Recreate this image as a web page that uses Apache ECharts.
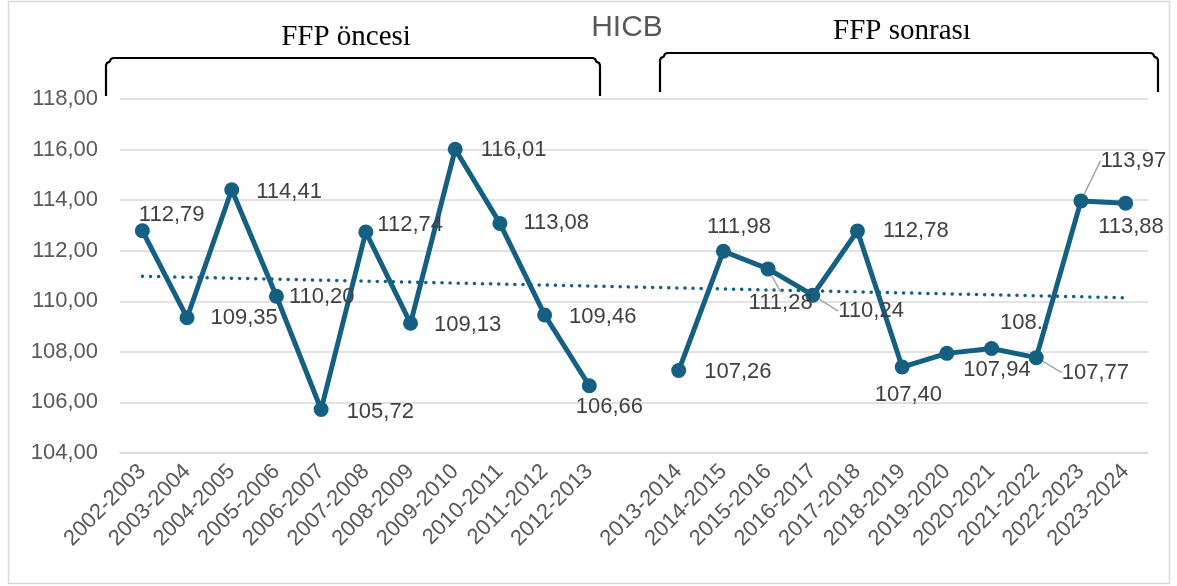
<!DOCTYPE html>
<html>
<head>
<meta charset="utf-8">
<script src="https://cdn.jsdelivr.net/npm/echarts@6/dist/echarts.min.js"></script>
<style>
  html, body { margin: 0; padding: 0; background: #fff; }
  #chart { width: 1177px; height: 586px; }
</style>
</head>
<body>
<div id="chart"></div>
<script>
// seasons, with one empty slot between the two periods
const seasonsBefore = ['2002-2003', '2003-2004', '2004-2005', '2005-2006', '2006-2007', '2007-2008',
  '2008-2009', '2009-2010', '2010-2011', '2011-2012', '2012-2013'];
const seasonsAfter = ['2013-2014', '2014-2015', '2015-2016', '2016-2017', '2017-2018', '2018-2019',
  '2019-2020', '2020-2021', '2021-2022', '2022-2023', '2023-2024'];

const hicbBefore = [112.79, 109.35, 114.41, 110.20, 105.72, 112.74, 109.13, 116.01, 113.08, 109.46, 106.66];
const hicbAfter = [107.26, 111.98, 111.28, 110.24, 112.78, 107.40, 107.94, 108.13, 107.77, 113.97, 113.88];

// linear trend, read at the first and last season
const trendStart = 110.99;
const trendEnd = 110.14;

const yTicks = [104, 106, 108, 110, 112, 114, 116, 118];

const categories = seasonsBefore.concat([''], seasonsAfter);
const hicb = hicbBefore.concat([null], hicbAfter);
const lastIdx = categories.length - 1;

// label nudges (dx, dy) per point, and which ones get a leader line
const labelShift = {
  0: [-16, -16], 1: [11, 0], 2: [12, 2], 3: [0, 1], 4: [13, 2], 5: [-1, -7],
  6: [11, 2], 7: [13, 1], 8: [11, 0], 9: [12, 2], 10: [-26, 21],
  12: [13, 1], 13: [-29, -24], 14: [-32, 34], 15: [13, 16], 16: [13, 0],
  17: [-40, 28], 18: [4, 17], 19: [-4, -26], 20: [13, 15], 21: [7, -40], 22: [-40, 24]
};
const withLeader = [14, 15, 20, 21];
const shownText = { 19: '108..' };

const blue = '#156082';
const grey = '#595959';
const sans = 'Liberation Sans, Arial, sans-serif';

// bracket outline with small rounded corners
function bracket(x0, x1, top, bottom) {
  const r = 7, k = 0.3;
  return [
    [x0, bottom], [x0, top + r], [x0 + r * k * 0.5, top + r * (1 - k)], [x0 + r * (1 - k * 1.6), top + r * (1 - k * 1.6)],
    [x0 + r * (1 - k), top + r * k * 0.5], [x0 + r, top],
    [x1 - r, top], [x1 - r * (1 - k), top + r * k * 0.5], [x1 - r * (1 - k * 1.6), top + r * (1 - k * 1.6)],
    [x1 - r * k * 0.5, top + r * (1 - k)], [x1, top + r], [x1, bottom]
  ];
}

const chart = echarts.init(document.getElementById('chart'));

chart.setOption({
  animation: false,
  grid: { left: 120, right: 29, top: 99, bottom: 133 },
  xAxis: {
    type: 'category',
    data: categories,
    boundaryGap: true,
    axisLine: { lineStyle: { color: '#d9d9d9', width: 1.5 } },
    axisTick: { show: false },
    axisLabel: {
      rotate: 45,
      interval: 0,
      margin: 15,
      color: grey,
      fontSize: 22,
      fontFamily: sans
    }
  },
  yAxis: {
    type: 'value',
    min: yTicks[0],
    max: yTicks[yTicks.length - 1],
    interval: 2,
    axisLine: { show: false },
    axisTick: { show: false },
    splitLine: { lineStyle: { color: '#d9d9d9', width: 1.5 } },
    axisLabel: {
      margin: 22,
      color: grey,
      fontSize: 22,
      fontFamily: sans,
      formatter: v => v.toFixed(2).replace('.', ',')
    }
  },
  series: [
    {
      name: 'trend',
      type: 'line',
      data: [[0, trendStart], [lastIdx, trendEnd]],
      symbol: 'none',
      z: 1,
      lineStyle: { color: blue, width: 3.5, type: [0.1, 8], cap: 'round' },
      silent: true
    },
    {
      name: 'HICB',
      type: 'line',
      z: 3,
      data: hicb.map((v, i) => ({
        value: v,
        labelLine: { show: withLeader.includes(i) }
      })),
      connectNulls: false,
      symbol: 'circle',
      symbolSize: 15,
      itemStyle: { color: blue },
      lineStyle: { color: blue, width: 5 },
      label: {
        show: true,
        position: 'right',
        distance: 5,
        color: '#404040',
        fontSize: 22,
        fontFamily: sans,
        formatter: p => shownText[p.dataIndex] || p.value.toFixed(2).replace('.', ',')
      },
      labelLine: {
        show: false,
        lineStyle: { color: '#a6a6a6', width: 1.5 }
      },
      labelLayout: p => {
        const s = labelShift[p.dataIndex] || [0, 0];
        return { dx: s[0], dy: s[1] };
      }
    }
  ],
  graphic: [
    {
      type: 'rect',
      shape: { x: 8.5, y: 1.5, width: 1161, height: 582 },
      style: { fill: 'none', stroke: '#d9d9d9', lineWidth: 1.5 },
      silent: true
    },
    {
      type: 'text',
      x: 627, y: 28,
      style: {
        text: 'HICB', fill: grey, font: '30px "Liberation Sans", Arial, sans-serif',
        align: 'center', verticalAlign: 'middle'
      }
    },
    {
      type: 'text',
      x: 346, y: 37,
      style: {
        text: 'FFP öncesi', fill: '#000', font: '29px "Liberation Serif", "Times New Roman", serif',
        align: 'center', verticalAlign: 'middle'
      }
    },
    {
      type: 'text',
      x: 902, y: 31,
      style: {
        text: 'FFP sonrası', fill: '#000', font: '29px "Liberation Serif", "Times New Roman", serif',
        align: 'center', verticalAlign: 'middle'
      }
    },
    {
      type: 'polyline',
      shape: { points: bracket(106, 600, 58, 96) },
      style: { fill: 'none', stroke: '#000', lineWidth: 2.2 }
    },
    {
      type: 'polyline',
      shape: { points: bracket(660, 1158, 53, 92) },
      style: { fill: 'none', stroke: '#000', lineWidth: 2.2 }
    }
  ]
});
</script>
</body>
</html>
